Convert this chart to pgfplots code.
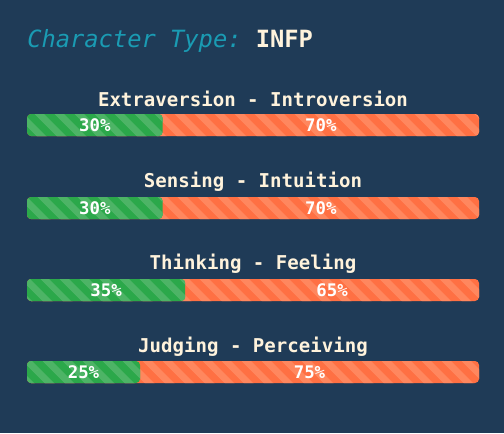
\documentclass[border=0pt]{standalone}
\usepackage{pgfplots}
\pgfplotsset{compat=1.18}
\usepackage{fontspec}
\setmonofont{DejaVu Sans Mono}
\usetikzlibrary{patterns.meta}
\definecolor{bg}{HTML}{1F3B57}
\definecolor{gbar}{HTML}{2BA84A}
\definecolor{gstripe}{HTML}{4DB466}
\definecolor{obar}{HTML}{FF7043}
\definecolor{ostripe}{HTML}{FF875E}
\definecolor{tealc}{HTML}{1A9BB3}
\definecolor{cream}{HTML}{FFF3DC}
\tikzset{lab/.style={text=cream, font=\fontsize{14.3}{16}\selectfont\ttfamily\bfseries},
  pct/.style={text=white, font=\fontsize{13}{15}\selectfont\ttfamily\bfseries}}
\begin{document}
\begin{tikzpicture}
\fill[bg] (0,0) rectangle (378pt,324.75pt);
\begin{axis}[at={(20.25pt,0pt)}, anchor=south west, scale only axis,
  width=339pt, height=324.75pt, xmin=0, xmax=100, ymin=0, ymax=433,
  y dir=reverse, axis lines=none, clip=false, xbar, bar width=22, bar shift=0pt]
% right-hand share: drawn as the full bar (100) underneath
\addplot[fill=obar, draw=none, rounded corners=3pt, postaction={pattern={Lines[angle=-45,distance=10.5pt,line width=5.25pt]}, pattern color=ostripe}]
  coordinates {(100,125) (100,208) (100,290) (100,372)};
% left-hand share
\addplot[fill=gbar, draw=none, rounded corners=3pt, postaction={pattern={Lines[angle=-45,distance=10.5pt,line width=5.25pt]}, pattern color=gstripe}]
  coordinates {(30,125) (30,208) (35,290) (25,372)};
\node[anchor=west, inner sep=0pt, font=\fontsize{17.8}{20}\selectfont\ttfamily] at (axis cs:0,41)
  {\textcolor{tealc}{\itshape Character Type:} \textcolor{cream}{\bfseries INFP}};
\node[lab] at (axis cs:50,99) {Extraversion - Introversion};
\node[lab] at (axis cs:50,182) {Sensing - Intuition};
\node[lab] at (axis cs:50,264) {Thinking - Feeling};
\node[lab] at (axis cs:50,347) {Judging - Perceiving};
\node[pct] at (axis cs:15,125) {30\%};
\node[pct] at (axis cs:65,125) {70\%};
\node[pct] at (axis cs:15,208) {30\%};
\node[pct] at (axis cs:65,208) {70\%};
\node[pct] at (axis cs:17.5,290) {35\%};
\node[pct] at (axis cs:67.5,290) {65\%};
\node[pct] at (axis cs:12.5,372) {25\%};
\node[pct] at (axis cs:62.5,372) {75\%};
\end{axis}
\end{tikzpicture}
\end{document}
